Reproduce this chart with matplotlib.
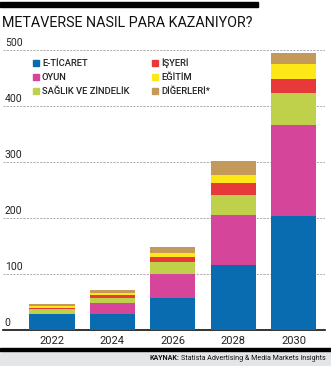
import matplotlib
matplotlib.use("Agg")
import matplotlib.pyplot as plt
from matplotlib.patches import Rectangle
from matplotlib import font_manager as fm
import numpy as np

years = ["2022", "2024", "2026", "2028", "2030"]
series_names = ["E-TİCARET", "OYUN", "SAĞLIK VE ZİNDELİK", "İŞYERİ", "EĞİTİM", "DİĞERLERİ*"]
e_ticaret = [28, 29, 57, 116, 204]
oyun = [1, 20, 43, 89, 162]
saglik = [8, 9, 22, 36, 58]
isyeri = [3, 5, 8, 22, 25]
egitim = [3, 3, 8, 13, 26]
digerleri = [3, 6, 11, 26, 19]
colors = ["#0a6cb0", "#d5469a", "#bfd04a", "#e8393a", "#fde716", "#c49a5a"]
yticks = [0, 100, 200, 300, 400, 500]

FAM = "DejaVu Sans"
for fam in ["Roboto", "Liberation Sans"]:
    try:
        fm.findfont(fm.FontProperties(family=fam), fallback_to_default=False)
        FAM = fam
        break
    except Exception:
        pass

W, H = 331, 366
fig = plt.figure(figsize=(W / 100, H / 100), dpi=100)

def px(x, y):
    return x / W, 1 - y / H

ax_left, ax_right = 3, 325
ax_bottom, ymax = 330, 510
scale = 0.56
ax_top = ax_bottom - ymax * scale
ax = fig.add_axes([ax_left / W, 1 - ax_bottom / H, (ax_right - ax_left) / W, (ax_bottom - ax_top) / H])

x = np.arange(len(years))
data = [e_ticaret, oyun, saglik, isyeri, egitim, digerleri]
bottom = np.zeros(len(years))
for vals, c in zip(data, colors):
    ax.bar(x, vals, width=0.75, bottom=bottom, color=c, zorder=3, linewidth=0)
    bottom += np.array(vals)

ax.set_xlim(-0.811, 4.52)
ax.set_ylim(0, ymax)
for sp in ["top", "right", "left"]:
    ax.spines[sp].set_visible(False)
ax.spines["bottom"].set_color("#111111")
ax.spines["bottom"].set_linewidth(1.2)
ax.set_yticks([])
ax.set_xticks(x)
ax.set_xticklabels(years, fontsize=8, family=FAM, color="#222222")
ax.tick_params(axis="x", length=0, pad=4)

for t in yticks[1:]:
    ax.axhline(t, color="#a0a0a0", linestyle=(0, (2.5, 1.5)), linewidth=0.6, zorder=1)
for t in yticks:
    ax.text(-0.78, t + 4, str(t), fontsize=7.5, family=FAM,
            ha="left", va="bottom", color="#222222", zorder=4)

fig.patches.append(Rectangle(px(0, 6.5), 258 / W, 4.5 / H, transform=fig.transFigure,
                             color="black", zorder=5))
title = fig.text(*px(2, 27), "METAVERSE NASIL PARA KAZANIYOR?", fontsize=14, family=FAM,
                 ha="left", va="baseline", color="#111111")

leg_pos = [(33, 63), (33, 77), (33, 91), (152, 63), (152, 77), (152, 91)]
leg_texts = []
for name, c, (lx, ly) in zip(series_names, colors, leg_pos):
    fig.patches.append(Rectangle(px(lx, ly + 3), 6 / W, 6 / H, transform=fig.transFigure,
                                 color=c, zorder=5))
    leg_texts.append(fig.text(*px(lx + 9, ly), name, fontsize=7.5, family=FAM, weight="medium",
                              ha="left", va="center", color="#222222"))

fig.patches.append(Rectangle(px(0, 366), 1, 16 / H, transform=fig.transFigure,
                             color="#e4e5e7", zorder=1))
fig.patches.append(Rectangle(px(0, 350.5), 1, 3 / H, transform=fig.transFigure,
                             color="black", zorder=2))
src = fig.text(*px(326, 358.5), "Statista Advertising & Media Markets Insights", fontsize=6.5,
               family=FAM, ha="right", va="center", color="#111111")

fig.canvas.draw()
r = fig.canvas.get_renderer()
def fit(t, target):
    w = t.get_window_extent(r).width
    if w > target:
        t.set_fontsize(t.get_fontsize() * target / w)
fit(title, 252)
fit(src, 143)
w_leg = leg_texts[2].get_window_extent(r).width
if w_leg > 87:
    for t in leg_texts:
        t.set_fontsize(t.get_fontsize() * 87 / w_leg)
fig.canvas.draw()
sw = src.get_window_extent(r)
fig.text((sw.x0 - 2) / W, px(0, 358.5)[1], "KAYNAK:", fontsize=src.get_fontsize(), family=FAM,
         weight="bold", ha="right", va="center", color="#111111")

fig.savefig("out.png", dpi=100)
